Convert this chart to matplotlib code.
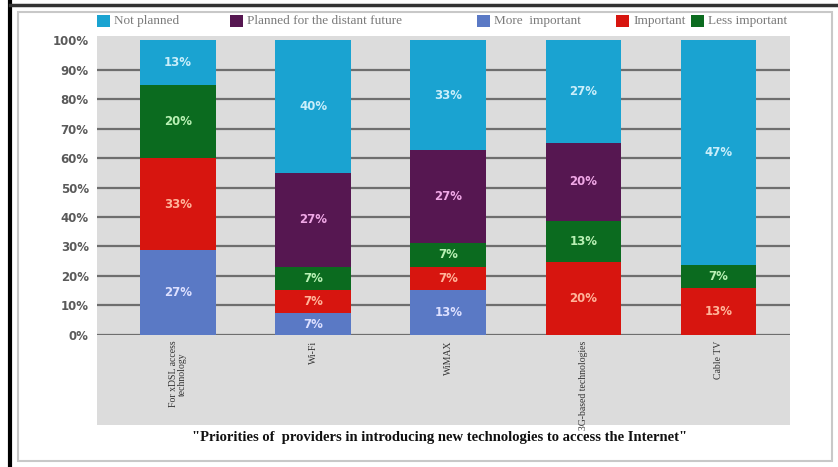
import matplotlib.pyplot as plt
from matplotlib.patches import Rectangle
from matplotlib.lines import Line2D

categories = ["For xDSL access\ntechnology", "Wi-Fi", "WiMAX",
              "3G-based technologies", "Cable TV"]
series_names = ["Not planned", "Planned for the distant future",
                "More  important", "Important", "Less important"]

# segment heights as drawn (share of bar, %)
more_important = [28.8, 7.3, 15.3, 0.0, 0.0]
important = [31.2, 8.0, 7.9, 24.6, 15.8]
less_important = [24.7, 7.9, 8.1, 14.2, 7.9]
planned_distant = [0.0, 31.6, 31.4, 26.4, 0.0]
not_planned = [15.3, 45.2, 37.3, 34.8, 76.3]

# labels as printed on the bars
more_important_lbl = ["27%", "7%", "13%", "", ""]
important_lbl = ["33%", "7%", "7%", "20%", "13%"]
less_important_lbl = ["20%", "7%", "7%", "13%", "7%"]
planned_distant_lbl = ["", "27%", "27%", "20%", ""]
not_planned_lbl = ["13%", "40%", "33%", "27%", "47%"]

yticks = list(range(0, 101, 10))
ytick_labels = [f"{v}%" for v in yticks]

colors = {
    "Not planned": "#1aa3d1",
    "Planned for the distant future": "#561751",
    "More  important": "#5a79c5",
    "Important": "#d7150f",
    "Less important": "#0b6b1f",
}
text_colors = {
    "Not planned": "#c9eefa",
    "Planned for the distant future": "#f0a8e6",
    "More  important": "#dde0ff",
    "Important": "#ffb49a",
    "Less important": "#b9f0b4",
}

W, H = 838, 467
fig = plt.figure(figsize=(W / 100, H / 100), dpi=100)

# outer frame
fig.add_artist(Line2D([0.012, 0.012], [0, 1], color="black", lw=3, transform=fig.transFigure))
fig.add_artist(Line2D([0.012, 1], [0.99, 0.99], color="#333333", lw=2.5, transform=fig.transFigure))
fig.add_artist(Rectangle((0.021, 0.012), 0.972, 0.962, fill=False, ec="#c8c8c8", lw=1.5,
                         transform=fig.transFigure))
# gray chart area
fig.add_artist(Rectangle((0.1158, 0.09), 0.827, 0.833, fc="#dcdcdc", ec="none",
                         transform=fig.transFigure, zorder=0))

ax = fig.add_axes([0.1158, 0.2827, 0.827, 0.6316])
ax.set_facecolor("none")

x = list(range(len(categories)))
order = [
    ("More  important", more_important, more_important_lbl),
    ("Important", important, important_lbl),
    ("Less important", less_important, less_important_lbl),
    ("Planned for the distant future", planned_distant, planned_distant_lbl),
    ("Not planned", not_planned, not_planned_lbl),
]

for v in yticks[:-1]:
    ax.axhline(v, color="#6e6e6e", lw=1.6, zorder=1)

bottom = [0.0] * len(categories)
for name, vals, lbls in order:
    ax.bar(x, vals, bottom=bottom, width=0.56, color=colors[name], zorder=2)
    for i, (b, v, t) in enumerate(zip(bottom, vals, lbls)):
        if t:
            ax.text(i, b + v / 2, t, ha="center", va="center", fontsize=8.5,
                    fontweight="bold", color=text_colors[name], zorder=3)
    bottom = [b + v for b, v in zip(bottom, vals)]

ax.set_xlim(-0.6, 4.53)
ax.set_ylim(0, 100)
ax.set_yticks(yticks)
ax.set_yticklabels(ytick_labels, fontsize=8.5, fontweight="bold", color="#5a5a5a")
ax.tick_params(axis="y", length=0, pad=6)
ax.set_xticks(x)
ax.set_xticklabels(categories, rotation=90, va="top", ha="center",
                   fontsize=7, family="Liberation Serif", color="#333333",
                   linespacing=1.0)
ax.tick_params(axis="x", length=0, pad=4)
for s in ax.spines.values():
    s.set_visible(False)

# legend drawn item by item to follow the uneven spacing of the original
legend_x = [97, 230, 477, 616, 691]
legend_y = 21
for name, lx in zip(series_names, legend_x):
    fig.add_artist(Rectangle((lx / W, 1 - (legend_y + 6) / H), 13 / W, 12 / H,
                             fc=colors[name], ec="none", transform=fig.transFigure))
    fig.text((lx + 17) / W, 1 - legend_y / H, name, ha="left", va="center",
             fontsize=9.5, family="Liberation Serif", color="#7a7a7a")

fig.text(0.525, 0.063,
         "\"Priorities of  providers in introducing new technologies to access the Internet\"",
         ha="center", va="center", fontsize=10.5, fontweight="bold",
         family="Liberation Serif", color="#111111")

fig.savefig("out.png", dpi=100)
